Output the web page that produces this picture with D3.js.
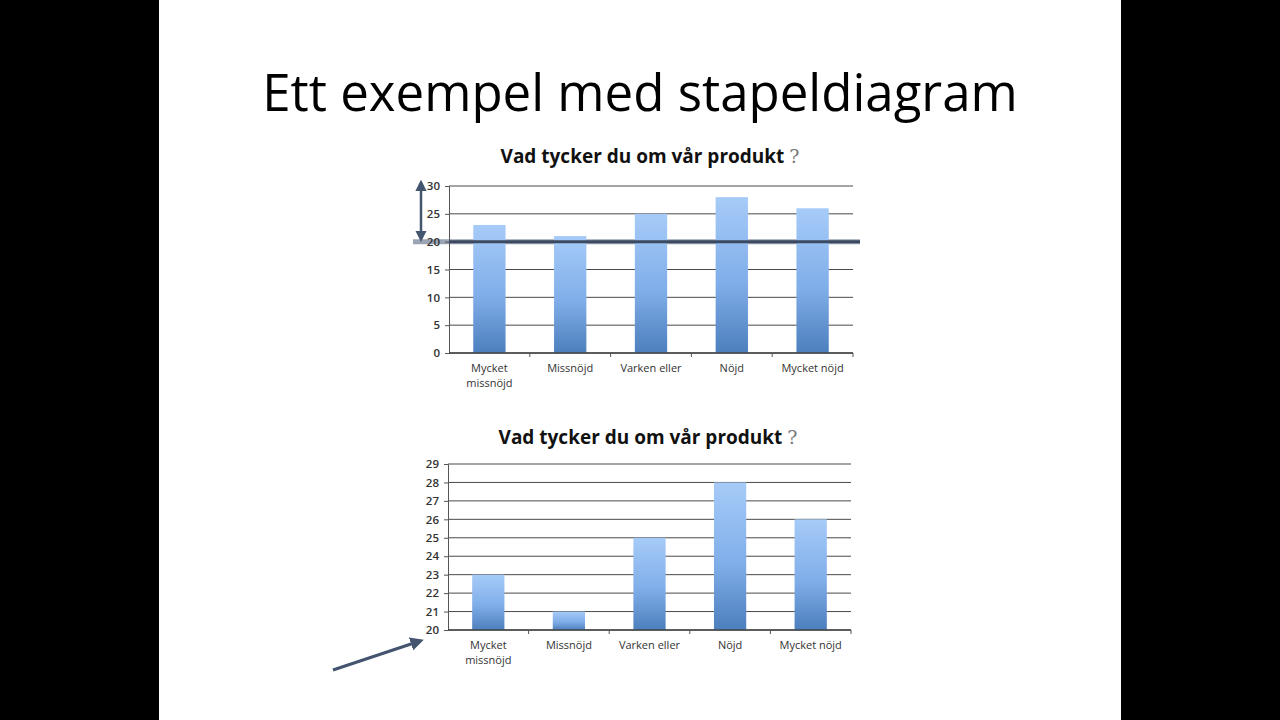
<!DOCTYPE html>
<html>
<head>
<meta charset="utf-8">
<script src="https://cdn.jsdelivr.net/npm/d3@7"></script>
<style>
  body { margin: 0; background: #000; }
  svg { display: block; }
</style>
</head>
<body>
<svg id="slide" width="1280" height="720"></svg>
<script>
// chart data
const categories = ["Mycket missnöjd", "Missnöjd", "Varken eller", "Nöjd", "Mycket nöjd"];
const answers = [23, 21, 25, 28, 26];
const topTicks = [0, 5, 10, 15, 20, 25, 30];
const bottomTicks = [20, 21, 22, 23, 24, 25, 26, 27, 28, 29];

const svg = d3.select("#slide");

// white slide in the middle, black pillars on the sides
svg.append("rect").attr("x", 159).attr("y", 0).attr("width", 962).attr("height", 720).attr("fill", "#fff");

let defs = svg.append("defs");
let grad = defs.append("linearGradient").attr("id", "barGrad")
  .attr("x1", 0).attr("y1", 0).attr("x2", 0).attr("y2", 1);
grad.append("stop").attr("offset", "0%").attr("stop-color", "#a6cbf8");
grad.append("stop").attr("offset", "55%").attr("stop-color", "#80aee9");
grad.append("stop").attr("offset", "100%").attr("stop-color", "#4c7fbd");

let marker = defs.append("marker").attr("id", "head")
  .attr("viewBox", "0 0 10 10").attr("refX", 7).attr("refY", 5)
  .attr("markerWidth", 4.5).attr("markerHeight", 4.5).attr("orient", "auto-start-reverse");
marker.append("path").attr("d", "M0,0L10,5L0,10z").attr("fill", "#44566f");

svg.append("text")
  .attr("x", 640).attr("y", 111)
  .attr("text-anchor", "middle")
  .attr("font-family", "Open Sans, sans-serif")
  .attr("font-size", 51)
  .attr("fill", "#000")
  .text("Ett exempel med stapeldiagram");

function drawChart(opt) {
  let g = svg.append("g");

  let x = d3.scaleBand().domain(categories).range([opt.left, opt.right]).paddingInner(0.6).paddingOuter(0.3);
  let xb = d3.scaleBand().domain(categories).range([opt.left, opt.right]);
  let y = d3.scaleLinear().domain(opt.domain).range([opt.bottom, opt.top]);

  // title
  let t = g.append("text")
    .attr("x", opt.titleX).attr("y", opt.titleY)
    .attr("text-anchor", "middle")
    .attr("font-family", "Open Sans, sans-serif")
    .attr("font-weight", "bold")
    .attr("font-size", 19)
    .attr("fill", "#111");
  t.append("tspan").text("Vad tycker du om vår produkt ");
  t.append("tspan").attr("fill", "#777").attr("font-family", "DejaVu Serif, serif").attr("font-weight", "normal").text("?");

  // gridlines
  g.selectAll(".grid").data(opt.ticks).enter().append("line")
    .attr("x1", opt.left).attr("x2", opt.right)
    .attr("y1", d => y(d)).attr("y2", d => y(d))
    .attr("stroke", "#4a4a4a").attr("stroke-width", 1);

  // extra marks that sit under the axis labels
  if (opt.under) opt.under(g, y);

  // y axis
  let yAxis = d3.axisLeft(y).tickValues(opt.ticks).tickSize(4).tickPadding(5);
  let ya = g.append("g").attr("transform", "translate(" + opt.left + ",0)").call(yAxis);
  ya.select(".domain").attr("stroke", "#555");
  ya.selectAll("line").attr("stroke", "#555");
  ya.selectAll("text").attr("font-family", "Open Sans, sans-serif").attr("font-size", 11.5)
    .attr("font-weight", 600).attr("fill", "#333");

  // bars
  g.selectAll(".bar").data(answers).enter().append("rect")
    .attr("x", (d, i) => x(categories[i]))
    .attr("width", x.bandwidth())
    .attr("y", d => y(d))
    .attr("height", d => opt.bottom - y(d))
    .attr("fill", "url(#barGrad)");

  // x axis with ticks between categories
  let xa = g.append("g").attr("transform", "translate(0," + opt.bottom + ")");
  xa.append("line").attr("x1", opt.left).attr("x2", opt.right).attr("stroke", "#444").attr("stroke-width", 1.5);
  xa.selectAll(".sep").data(categories).enter().append("line")
    .attr("x1", d => xb(d) + xb.bandwidth()).attr("x2", d => xb(d) + xb.bandwidth())
    .attr("y1", 0).attr("y2", 4).attr("stroke", "#555");
  let labels = xa.selectAll(".lab").data(categories).enter().append("text")
    .attr("x", d => xb(d) + xb.bandwidth() / 2)
    .attr("y", 19)
    .attr("text-anchor", "middle")
    .attr("font-family", "Open Sans, sans-serif")
    .attr("font-size", 11)
    .attr("font-weight", 500)
    .attr("fill", "#333");
  labels.each(function(d) {
    let el = d3.select(this);
    if (d === "Mycket missnöjd") {
      el.append("tspan").attr("x", xb(d) + xb.bandwidth() / 2).text("Mycket");
      el.append("tspan").attr("x", xb(d) + xb.bandwidth() / 2).attr("dy", 15).text("missnöjd");
    } else {
      el.text(d);
    }
  });
  return {x: x, y: y, g: g};
}

let upper = drawChart({
  left: 449, right: 853, top: 186, bottom: 353,
  domain: [0, 30], ticks: topTicks, titleX: 650, titleY: 163,
  under: (g, y) => {
    // the cut line at 20
    g.append("line").attr("x1", 413).attr("x2", 860).attr("y1", y(20)).attr("y2", y(20))
      .attr("stroke", "#9aa4b4").attr("stroke-width", 5);
  }
});

// dark part of the cut line sits over the bars
upper.g.append("line").attr("x1", 449).attr("x2", 860).attr("y1", upper.y(20)).attr("y2", upper.y(20))
  .attr("stroke", "#3b4a60").attr("stroke-width", 3);
// the double arrow showing the part that is kept
upper.g.append("line").attr("x1", 421).attr("x2", 421).attr("y1", upper.y(20) - 3).attr("y2", upper.y(30) - 3)
  .attr("stroke", "#44566f").attr("stroke-width", 2.5)
  .attr("marker-start", "url(#head)").attr("marker-end", "url(#head)");

let lower = drawChart({
  left: 448, right: 851, top: 464, bottom: 630,
  domain: [20, 29], ticks: bottomTicks, titleX: 648, titleY: 444
});

lower.g.append("line").attr("x1", 333).attr("y1", 670).attr("x2", 420).attr("y2", lower.y(20) + 11)
  .attr("stroke", "#44566f").attr("stroke-width", 3)
  .attr("marker-end", "url(#head)");
</script>
</body>
</html>
